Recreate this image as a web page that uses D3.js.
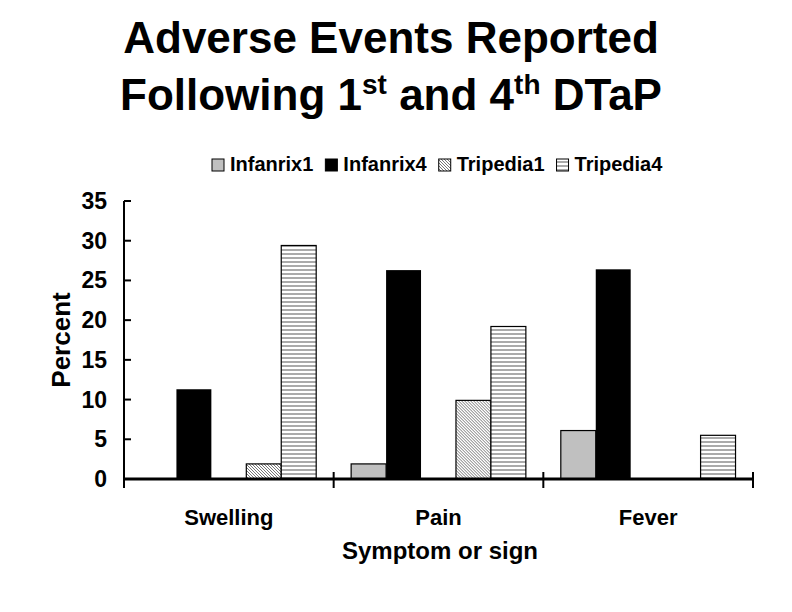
<!DOCTYPE html>
<html>
<head>
<meta charset="utf-8">
<script src="https://cdn.jsdelivr.net/npm/d3@7"></script>
<style>
  body { margin: 0; background: #fff; }
  text { font-family: "Liberation Sans", Arial, sans-serif; font-weight: bold; fill: #000; }
</style>
</head>
<body>
<svg id="chart" width="792" height="612"></svg>
<script>
// chart values
var categories = ["Swelling", "Pain", "Fever"];
var seriesNames = ["Infanrix1", "Infanrix4", "Tripedia1", "Tripedia4"];
var infanrix1 = [0, 1.9, 6.1];
var infanrix4 = [11.3, 26.3, 26.4];
var tripedia1 = [1.9, 9.9, 0];
var tripedia4 = [29.4, 19.2, 5.5];
var yTicks = [0, 5, 10, 15, 20, 25, 30, 35];

var seriesValues = [infanrix1, infanrix4, tripedia1, tripedia4];
// the original leaves an empty slot between the two vaccines
var slots = ["Infanrix1", "Infanrix4", "gap", "Tripedia1", "Tripedia4"];

var svg = d3.select("#chart");
var margin = { left: 124, right: 753, top: 201, bottom: 479 };

var defs = svg.append("defs");
// fine diagonal hatch
var diag = defs.append("pattern")
    .attr("id", "diag")
    .attr("patternUnits", "userSpaceOnUse")
    .attr("width", 3).attr("height", 3);
diag.append("rect").attr("width", 3).attr("height", 3).attr("fill", "#fff");
diag.append("path")
    .attr("d", "M-1,-1 L4,4 M-1,2 L1,4 M2,-1 L4,1")
    .attr("stroke", "#666").attr("stroke-width", 0.9);
// horizontal lines
var horiz = defs.append("pattern")
    .attr("id", "horiz")
    .attr("patternUnits", "userSpaceOnUse")
    .attr("width", 8).attr("height", 4);
horiz.append("rect").attr("width", 8).attr("height", 4).attr("fill", "#fff");
horiz.append("line")
    .attr("x1", 0).attr("x2", 8).attr("y1", 2).attr("y2", 2)
    .attr("stroke", "#555").attr("stroke-width", 1);

var fills = {
    Infanrix1: "#c0c0c0",
    Infanrix4: "#000",
    Tripedia1: "url(#diag)",
    Tripedia4: "url(#horiz)"
};

// scales
var x0 = d3.scaleBand().domain(categories).range([margin.left, margin.right]).padding(0);
var x1 = d3.scaleBand().domain(slots).range([0, x0.bandwidth()])
    .paddingInner(0).paddingOuter(0.5);
var y = d3.scaleLinear().domain([0, 35]).range([margin.bottom, margin.top]);

// title
var title = svg.append("g");
title.append("text")
    .attr("x", 391).attr("y", 53)
    .attr("text-anchor", "middle")
    .style("font-size", "44px")
    .text("Adverse Events Reported");
var t2 = title.append("text")
    .attr("x", 391).attr("y", 110)
    .attr("text-anchor", "middle")
    .style("font-size", "44px");
t2.append("tspan").text("Following 1");
t2.append("tspan").attr("dy", -16).style("font-size", "28px").text("st");
t2.append("tspan").attr("dy", 16).text(" and 4");
t2.append("tspan").attr("dy", -16).style("font-size", "28px").text("th");
t2.append("tspan").attr("dy", 16).text(" DTaP");

// legend
var legend = svg.append("g");
var lx = 212;
seriesNames.forEach(function(name) {
    legend.append("rect")
        .attr("x", lx).attr("y", 159)
        .attr("width", 12).attr("height", 12)
        .attr("fill", fills[name])
        .attr("stroke", "#000").attr("stroke-width", 1);
    var t = legend.append("text")
        .attr("x", lx + 18).attr("y", 171)
        .style("font-size", "20px")
        .text(name);
    lx += 18 + t.node().getComputedTextLength() + 12;
});

// bars
var groups = svg.append("g").selectAll("g")
    .data(categories)
    .join("g")
    .attr("transform", function(d) { return "translate(" + x0(d) + ",0)"; });

groups.selectAll("rect")
    .data(function(d, i) {
        return seriesNames.map(function(s, j) {
            return { series: s, value: seriesValues[j][i] };
        }).filter(function(d) { return d.value > 0; });
    })
    .join("rect")
    .attr("x", function(d) { return x1(d.series); })
    .attr("y", function(d) { return y(d.value); })
    .attr("width", x1.bandwidth())
    .attr("height", function(d) { return y(0) - y(d.value); })
    .attr("fill", function(d) { return fills[d.series]; })
    .attr("stroke", "#000")
    .attr("stroke-width", function(d) { return d.series === "Infanrix4" ? 0 : 1.2; });

// y axis
var yAxis = svg.append("g");
yAxis.append("line")
    .attr("x1", margin.left).attr("x2", margin.left)
    .attr("y1", y(35)).attr("y2", y(0) + 9)
    .attr("stroke", "#000").attr("stroke-width", 2);
yAxis.selectAll(".tick")
    .data(yTicks)
    .join("line")
    .attr("x1", margin.left).attr("x2", margin.left + 7)
    .attr("y1", function(d) { return y(d); })
    .attr("y2", function(d) { return y(d); })
    .attr("stroke", "#000").attr("stroke-width", 2);
yAxis.selectAll("text")
    .data(yTicks)
    .join("text")
    .attr("x", 107)
    .attr("y", function(d) { return y(d) + 8; })
    .attr("text-anchor", "end")
    .style("font-size", "23px")
    .text(function(d) { return d; });

// x axis
var xAxis = svg.append("g");
xAxis.append("line")
    .attr("x1", margin.left).attr("x2", margin.right)
    .attr("y1", y(0)).attr("y2", y(0))
    .attr("stroke", "#000").attr("stroke-width", 3);
xAxis.selectAll(".tick")
    .data(categories.slice(1).concat(["end"]))
    .join("line")
    .attr("x1", function(d) { return d === "end" ? margin.right : x0(d); })
    .attr("x2", function(d) { return d === "end" ? margin.right : x0(d); })
    .attr("y1", y(0) - 7).attr("y2", y(0) + 9)
    .attr("stroke", "#000").attr("stroke-width", 2);
xAxis.selectAll("text")
    .data(categories)
    .join("text")
    .attr("x", function(d) { return x0(d) + x0.bandwidth() / 2; })
    .attr("y", 525)
    .attr("text-anchor", "middle")
    .style("font-size", "22px")
    .text(function(d) { return d; });

// axis titles
svg.append("text")
    .attr("x", 440).attr("y", 559)
    .attr("text-anchor", "middle")
    .style("font-size", "24px")
    .text("Symptom or sign");
svg.append("text")
    .attr("transform", "translate(70,340) rotate(-90)")
    .attr("text-anchor", "middle")
    .style("font-size", "26px")
    .text("Percent");
</script>
</body>
</html>
